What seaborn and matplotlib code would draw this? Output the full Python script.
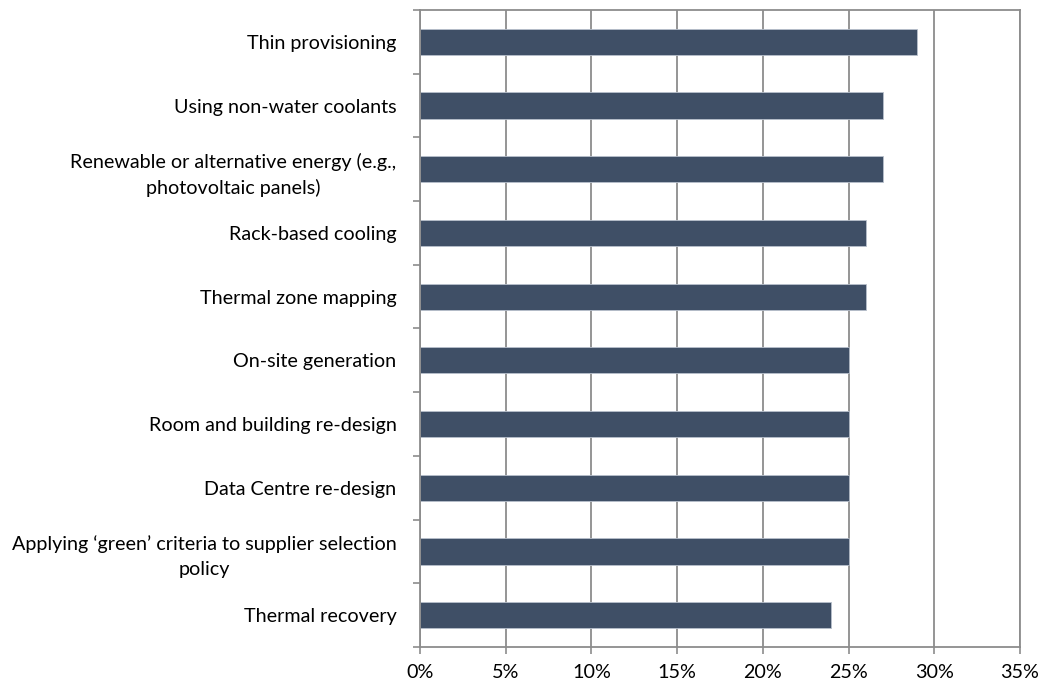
import matplotlib
matplotlib.use("Agg")
import matplotlib.pyplot as plt
import seaborn as sns
import pandas as pd
import numpy as np
from matplotlib.ticker import FixedLocator, PercentFormatter

categories = [
    "Thin provisioning",
    "Using non-water coolants",
    "Renewable or alternative energy (e.g.,\nphotovoltaic panels)",
    "Rack-based cooling",
    "Thermal zone mapping",
    "On-site generation",
    "Room and building re-design",
    "Data Centre re-design",
    "Applying \u2018green\u2019 criteria to supplier selection\npolicy",
    "Thermal recovery",
]
shares = [29, 27, 27, 26, 26, 25, 25, 25, 25, 24]
x_ticks = [0, 5, 10, 15, 20, 25, 30, 35]

df = pd.DataFrame({"category": categories, "share": shares})

sns.set_theme(style="white")
plt.rcParams["font.family"] = ["Lato", "DejaVu Sans"]

W, H = 1041, 690
fig = plt.figure(figsize=(W / 100, H / 100), dpi=100)
ax = fig.add_axes([420 / W, 1 - 647 / H, 600 / W, 637 / H])

sns.barplot(data=df, x="share", y="category", orient="h", color="#3F4F66",
            saturation=1, width=0.41, ax=ax, edgecolor="#B8C0CC", linewidth=0.6)

ax.set_xlim(0, 35)
ax.set_ylim(len(categories) - 0.5, -0.5)
ax.set_xticks(x_ticks)
ax.xaxis.set_major_formatter(PercentFormatter(decimals=0))
ax.grid(axis="x", color="#8C8C8C", linewidth=1.3)
ax.set_axisbelow(True)
ax.set_xlabel("")
ax.set_ylabel("")

# boundary ticks between categories on the left axis
ax.yaxis.set_minor_locator(FixedLocator(np.arange(-0.5, len(categories), 1.0)))
ax.tick_params(axis="y", which="major", length=0, pad=17, labelsize=14.2, colors="black")
ax.tick_params(axis="y", which="minor", length=5, width=1.2, color="#8C8C8C", left=True)
ax.tick_params(axis="x", which="major", length=5, width=1.2, color="#8C8C8C",
               bottom=True, pad=7, labelsize=14.2, labelcolor="black")
for lbl in ax.get_yticklabels():
    lbl.set_multialignment("center")
    lbl.set_linespacing(1.55)

for side in ["left", "bottom", "top", "right"]:
    ax.spines[side].set_visible(True)
    ax.spines[side].set_color("#8C8C8C")
    ax.spines[side].set_linewidth(1.3)

fig.savefig("out.png", dpi=100, facecolor="white")
